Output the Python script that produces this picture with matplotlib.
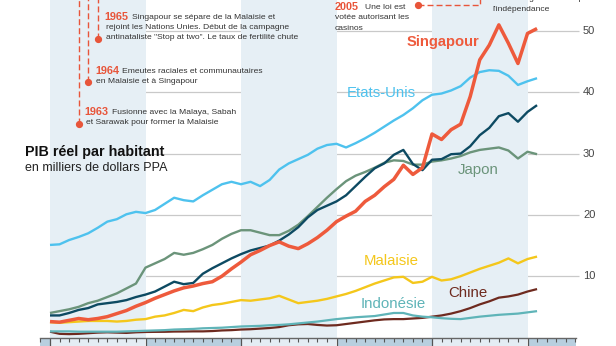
import matplotlib
matplotlib.use("Agg")
import matplotlib.pyplot as plt
from matplotlib.ticker import MultipleLocator, NullFormatter

FONT = ['Liberation Sans', 'DejaVu Sans']
plt.rcParams['font.family'] = FONT

# ---- data: real GDP per capita, thousands of PPP dollars ----
years = list(range(1960, 2012))

singapour = [2.6, 2.5, 2.8, 3.1, 2.9, 3.1, 3.4, 3.9, 4.4, 5.1,
             5.7, 6.4, 7.0, 7.6, 8.1, 8.4, 8.8, 9.1, 10.0, 11.2,
             12.3, 13.5, 14.2, 15.0, 15.6, 14.9, 14.5, 15.3, 16.3, 17.5,
             18.9, 19.8, 20.6, 22.2, 23.2, 24.6, 25.8, 28.1, 26.6, 27.7,
             33.2, 32.3, 33.9, 34.8, 39.3, 45.3, 47.7, 51.0, 48.0, 44.7,
             49.6, 50.4]
etats_unis = [15.1, 15.2, 15.9, 16.4, 17.0, 17.9, 18.9, 19.3, 20.1, 20.5,
              20.3, 20.8, 21.8, 22.8, 22.4, 22.2, 23.2, 24.1, 25.0, 25.4,
              25.0, 25.4, 24.7, 25.7, 27.4, 28.4, 29.1, 29.8, 30.8, 31.4,
              31.6, 31.0, 31.7, 32.5, 33.4, 34.4, 35.4, 36.3, 37.4, 38.7,
              39.6, 39.8, 40.3, 41.0, 42.4, 43.3, 43.6, 43.5, 42.7, 41.2,
              41.8, 42.3]
hong_kong = [3.6, 3.6, 4.0, 4.5, 4.8, 5.4, 5.6, 5.8, 6.1, 6.6,
             7.0, 7.5, 8.3, 9.1, 8.7, 8.9, 10.4, 11.3, 12.1, 12.9,
             13.6, 14.2, 14.6, 15.0, 15.8, 16.8, 18.0, 19.6, 20.8, 21.5,
             22.2, 23.2, 24.7, 26.2, 27.6, 28.4, 29.8, 30.6, 28.3, 27.3,
             29.0, 29.1, 29.9, 30.0, 31.2, 33.0, 34.2, 36.1, 36.6, 35.2,
             36.8, 37.9]
japon = [4.0, 4.3, 4.6, 5.0, 5.6, 6.0, 6.6, 7.2, 8.0, 8.8,
         11.4, 12.1, 12.8, 13.8, 13.5, 13.8, 14.4, 15.1, 16.1, 16.9,
         17.5, 17.5, 17.1, 16.7, 16.7, 17.4, 18.4, 19.8, 21.3, 22.8,
         24.2, 25.5, 26.4, 27.0, 27.7, 28.5, 28.9, 28.8, 28.2, 28.2,
         28.7, 28.9, 29.2, 29.6, 30.2, 30.6, 30.8, 31.0, 30.5, 29.2,
         30.3, 29.9]
malaisie = [2.5, 2.4, 2.5, 2.6, 2.7, 2.7, 2.7, 2.6, 2.7, 2.9,
            3.0, 3.4, 3.6, 4.0, 4.5, 4.3, 4.9, 5.3, 5.5, 5.8,
            6.1, 6.0, 6.2, 6.4, 6.8, 6.2, 5.6, 5.8, 6.0, 6.3,
            6.7, 7.1, 7.6, 8.2, 8.8, 9.3, 9.8, 9.9, 8.9, 9.1,
            9.9, 9.3, 9.5, 10.0, 10.6, 11.2, 11.7, 12.2, 12.9, 12.1,
            12.8, 13.2]
indonesie = [1.0, 1.0, 1.0, 0.95, 0.95, 0.95, 0.95, 0.95, 1.0, 1.05,
             1.1, 1.15, 1.2, 1.3, 1.35, 1.4, 1.5, 1.55, 1.6, 1.7,
             1.8, 1.85, 1.9, 2.0, 2.05, 2.15, 2.3, 2.45, 2.6, 2.8,
             3.0, 3.15, 3.3, 3.4, 3.5, 3.75, 4.0, 4.0, 3.6, 3.4,
             3.3, 3.15, 3.05, 3.0, 3.2, 3.4, 3.55, 3.7, 3.8, 3.9,
             4.1, 4.3]
chine = [0.95, 0.6, 0.55, 0.6, 0.7, 0.8, 0.85, 0.8, 0.75, 0.85,
         0.9, 0.92, 0.93, 0.97, 0.98, 1.0, 1.0, 1.05, 1.15, 1.2,
         1.3, 1.35, 1.45, 1.55, 1.7, 2.0, 2.15, 2.2, 2.05, 1.95,
         2.0, 2.2, 2.4, 2.6, 2.8, 2.95, 3.0, 3.0, 3.1, 3.2,
         3.4, 3.6, 3.9, 4.3, 4.8, 5.4, 5.9, 6.5, 6.7, 7.0,
         7.5, 7.9]

grid_values = [10, 20, 30, 40, 50]
shaded_decades = [1960, 1980, 2000]

# timeline events (year, level of the marker dot)
event_years = [1963, 1964, 1965]
event_levels = [34.9, 41.7, 48.7]
casino_year = 2005
casino_level = 54.2
casino_dot_year = 1998.5

# ---- figure geometry ----
W, H = 616, 346
fig = plt.figure(figsize=(W / 100, H / 100), dpi=100)

X0_PX, PX_PER_YEAR = 50.0, 9.55
Y0_PX, PX_PER_UNIT = 337.5, 6.13


def px_to_year(px):
    return 1960 + (px - X0_PX) / PX_PER_YEAR


def px_to_val(py):
    return (Y0_PX - py) / PX_PER_UNIT


def ftext(px, py, s, **kw):
    kw.setdefault('va', 'center')
    kw.setdefault('ha', 'left')
    return fig.text(px / W, 1 - py / H, s, **kw)


ax = fig.add_axes([0, 0, 1, 1])
ax.set_xlim(px_to_year(0), px_to_year(W))
ax.set_ylim(px_to_val(H), px_to_val(0))
ax.axis('off')

BAND = '#e6eff5'
for d in shaded_decades:
    ax.axvspan(d, d + 10, color=BAND, lw=0, zorder=1)

grid_end = px_to_year(579)
ax.hlines(grid_values, 1960, grid_end, color='#c9c9c9', lw=0.9, zorder=0.5)
for v in grid_values:
    ax.text(px_to_year(583), v, str(v), ha='left', va='center',
            fontsize=8, color='#444444')

series = [
    (chine, '#6e2a1f', 1.6),
    (indonesie, '#5fb4b8', 1.6),
    (malaisie, '#f4c71b', 1.7),
    (japon, '#6b947a', 1.7),
    (hong_kong, '#0d4a62', 1.7),
    (etats_unis, '#4ec2ee', 1.7),
    (singapour, '#ee5a3c', 2.5),
]
for i, (vals, col, lw) in enumerate(series):
    ax.plot(years, vals, color=col, lw=lw, zorder=3 + i,
            solid_joinstyle='round', solid_capstyle='butt')

# series labels
lab_kw = dict(ha='center', va='center', fontsize=10.8)
ax.text(px_to_year(442.5), px_to_val(42), 'Singapour', color='#ee5a3c',
        fontweight='bold', ha='center', va='center', fontsize=10.6, zorder=20)
ax.text(px_to_year(381), px_to_val(93), 'Etats-Unis', color='#4ec2ee', **lab_kw)
ax.text(px_to_year(478.5), px_to_val(170), 'Japon', color='#6b947a', **lab_kw)
ax.text(px_to_year(391.5), px_to_val(260.7), 'Malaisie', color='#f4c71b', **lab_kw)
ax.text(px_to_year(393), px_to_val(304), 'Indonésie', color='#5fb4b8', **lab_kw)
ax.text(px_to_year(467.5), px_to_val(292.7), 'Chine', color='#6e2a1f', **lab_kw)

# title
ftext(25, 151.7, 'PIB réel par habitant', fontsize=10.3, fontweight='bold',
      color='#111111')
ftext(25, 168.3, 'en milliers de dollars PPA', fontsize=9, color='#222222')

# ---- timeline annotations ----
ACC = '#e8553a'
TXT = '#333333'
top = px_to_val(-5)
dash_kw = dict(color=ACC, lw=1.0, dashes=(4.3, 2.2), zorder=10)
for yr, lv in zip(event_years, event_levels):
    ax.plot([yr, yr], [lv, top], **dash_kw)
    ax.plot([yr], [lv], 'o', color=ACC, ms=4.2, zorder=11)

ax.plot([casino_dot_year, casino_year, casino_year],
        [casino_level, casino_level, top], **dash_kw)
ax.plot([casino_dot_year], [casino_level], 'o', color=ACC, ms=4.2, zorder=11)

yr_kw = dict(fontsize=7.8, fontweight='bold', color=ACC)
body_kw = dict(fontsize=6.1, color=TXT)

ftext(104, 16.7, '1965', **yr_kw)
ftext(132, 17.2, 'Singapour se sépare de la Malaisie et', **body_kw)
ftext(106, 27.5, 'rejoint les Nations Unies. Début de la campagne', **body_kw)
ftext(106, 37.9, 'antinataliste "Stop at two". Le taux de fertilité chute', **body_kw)

ftext(95.5, 70.7, '1964', **yr_kw)
ftext(122, 71.2, 'Emeutes raciales et communautaires', **body_kw)
ftext(96, 81.3, 'en Malaisie et à Singapour', **body_kw)

ftext(84.3, 111.7, '1963', **yr_kw)
ftext(112, 112.2, 'Fusionne avec la Malaya, Sabah', **body_kw)
ftext(86, 122.6, 'et Sarawak pour former la Malaisie', **body_kw)

ftext(335, 6.7, '2005', **yr_kw)
ftext(365, 7.2, 'Une loi est', **body_kw)
ftext(335, 17.5, 'votée autorisant les', **body_kw)
ftext(335, 28.0, 'casinos', **body_kw)

ftext(492.7, -1.2, 'élections générales depuis', **body_kw)
ftext(492.7, 9.3, "l'indépendance", **body_kw)

# ---- year tick strip along the bottom ----
sx = fig.add_axes([40 / W, 0, (576 - 40) / W, 8.5 / H])
sx.set_xlim(px_to_year(40), px_to_year(576))
sx.set_ylim(0, 1)
for d in range(1950, 2020, 10):
    dark = (d // 10) % 2 == 1
    sx.axvspan(d, d + 10, color='#b8cfdf' if dark else '#e4edf4', lw=0)
sx.set_yticks([])
sx.xaxis.set_ticks_position('top')
sx.xaxis.set_major_locator(MultipleLocator(10))
sx.xaxis.set_minor_locator(MultipleLocator(1))
sx.xaxis.set_major_formatter(NullFormatter())
sx.tick_params(axis='x', which='major', direction='in', length=6.2,
               width=0.9, color='#555555')
sx.tick_params(axis='x', which='minor', direction='in', length=2.6,
               width=0.8, color='#555555')
for side in ('left', 'right', 'bottom'):
    sx.spines[side].set_visible(False)
sx.spines['top'].set_color('#666666')
sx.spines['top'].set_linewidth(1.0)

fig.savefig('out.png', dpi=100)
